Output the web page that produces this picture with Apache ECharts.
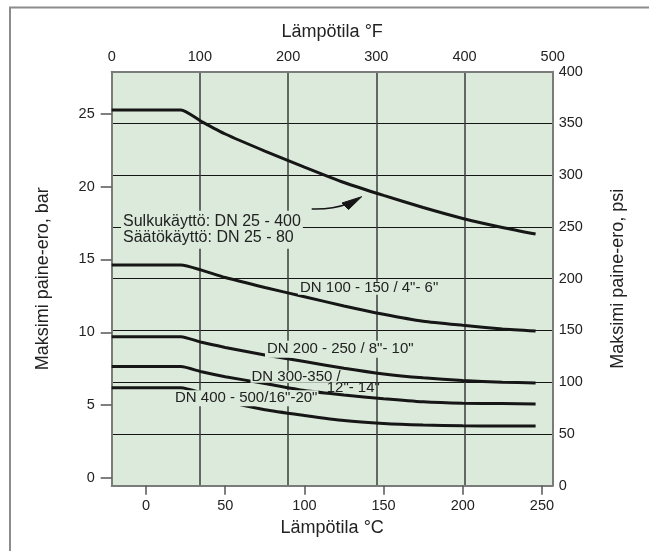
<!DOCTYPE html>
<html><head><meta charset="utf-8">
<script src="https://cdn.jsdelivr.net/npm/echarts@6/dist/echarts.min.js"></script>
<style>html,body{margin:0;padding:0;background:#fff}#c{width:649px;height:551px}</style>
</head><body><div id="c"></div>
<script>
// Temperature points (°C) at which the curves were read
const tempC = [-21.7, 22, 35, 50, 75, 100, 125, 150, 175, 200, 225, 246];
// Maximum pressure difference, bar
const dn25_400  = [25.27, 25.27, 24.48, 23.62, 22.45, 21.35, 20.29, 19.40, 18.57, 17.82, 17.20, 16.75];
const dn100_150 = [14.62, 14.62, 14.27, 13.76, 13.08, 12.44, 11.81, 11.24, 10.76, 10.48, 10.23, 10.09];
const dn200_250 = [9.70, 9.70, 9.31, 8.96, 8.44, 7.99, 7.53, 7.14, 6.87, 6.68, 6.57, 6.52];
const dn300_350 = [7.64, 7.64, 7.29, 6.95, 6.48, 6.00, 5.69, 5.44, 5.23, 5.13, 5.10, 5.08];
const dn400_500 = [6.19, 6.19, 5.83, 5.28, 4.68, 4.29, 3.94, 3.74, 3.63, 3.57, 3.56, 3.56];
const seriesNames = ['DN 25 - 400', 'DN 100 - 150', 'DN 200 - 250', 'DN 300 - 350', 'DN 400 - 500'];
// Tick labels
const celsiusTicks = [0, 50, 100, 150, 200, 250];
const barTicks = [0, 5, 10, 15, 20, 25];

const FONT = '"Liberation Sans", Arial, Helvetica, sans-serif';
const TXT = '#222';
const BORDER = '#7b7b7b';
const PLOTBG = '#dbeadb';

const chart = echarts.init(document.getElementById('c'), null, {renderer: 'canvas'});
const allCurves = [dn25_400, dn100_150, dn200_250, dn300_350, dn400_500];

function label(text, x, cy, size, lh, bg, pad) {
  return {
    type: 'text', x: x, y: cy, z: 20, silent: true,
    style: {
      text: text, fill: TXT, font: size + 'px ' + FONT,
      align: 'left', verticalAlign: 'middle', lineHeight: lh,
      backgroundColor: bg ? PLOTBG : null, padding: pad || 0
    }
  };
}
const axisLine = {show: true, onZero: false, lineStyle: {color: BORDER, width: 2}};

chart.setOption({
  animation: false,
  backgroundColor: '#fff',
  textStyle: {fontFamily: FONT},
  grid: {left: 111.7, right: 96.3, top: 71.7, bottom: 65.3, show: true, backgroundColor: PLOTBG, borderWidth: 0},
  xAxis: [
    {
      type: 'value', position: 'bottom', min: -21.7, max: 256.8,
      axisLine: axisLine,
      axisTick: {show: true, customValues: celsiusTicks, length: 9, lineStyle: {color: '#555', width: 1.5}},
      axisLabel: {customValues: celsiusTicks, fontSize: 14.5, color: TXT, margin: 13, fontFamily: FONT},
      splitLine: {show: false},
      name: 'Lämpötila °C', nameLocation: 'middle', nameGap: 33,
      nameTextStyle: {fontSize: 18, color: TXT, fontFamily: FONT}
    },
    {
      type: 'value', position: 'top', min: 0, max: 500, interval: 100,
      axisLine: axisLine,
      axisTick: {show: false},
      axisLabel: {fontSize: 14.5, color: TXT, margin: 7, fontFamily: FONT},
      splitLine: {show: true, showMinLine: false, showMaxLine: false, lineStyle: {color: '#3c3c3c', width: 1.5}},
      name: 'Lämpötila °F', nameLocation: 'middle', nameGap: 31,
      nameTextStyle: {fontSize: 18, color: TXT, fontFamily: FONT}
    }
  ],
  yAxis: [
    {
      type: 'value', position: 'left', min: -0.54, max: 27.9,
      axisLine: axisLine,
      axisTick: {show: true, customValues: barTicks, length: 11, lineStyle: {color: '#555', width: 1.5}},
      axisLabel: {customValues: barTicks, fontSize: 14.5, color: TXT, margin: 17, fontFamily: FONT},
      splitLine: {show: false},
      name: 'Maksimi paine-ero, bar', nameLocation: 'middle', nameGap: 60, nameRotate: 90,
      nameTextStyle: {fontSize: 18, color: TXT, fontFamily: FONT}
    },
    {
      type: 'value', position: 'right', min: 0, max: 400, interval: 50,
      axisLine: axisLine,
      axisTick: {show: false},
      axisLabel: {fontSize: 14.5, color: TXT, margin: 6, fontFamily: FONT},
      splitLine: {show: true, showMinLine: false, showMaxLine: false, lineStyle: {color: '#151515', width: 1}},
      name: 'Maksimi paine-ero, psi', nameLocation: 'middle', nameGap: 56, nameRotate: 90,
      nameTextStyle: {fontSize: 18, color: TXT, fontFamily: FONT}
    }
  ],
  series: allCurves.map((vals, i) => ({
    name: seriesNames[i], type: 'line', xAxisIndex: 0, yAxisIndex: 0,
    data: tempC.map((t, k) => [t, vals[k]]),
    showSymbol: false, silent: true, smooth: 0.2,
    lineStyle: {color: '#161616', width: 3}, z: 5
  })),
  graphic: [
    {type: 'rect', z: 0, silent: true, shape: {x: 10, y: 7.5, width: 700, height: 600},
     style: {fill: null, stroke: '#8c8c8c', lineWidth: 2}},
    label('Sulkukäyttö: DN 25 - 400\nSäätökäyttö: DN 25 - 80', 121, 229.7, 16, 16, true, [3, 2, 3, 2]),
    label('DN 100 - 150 / 4"- 6"', 298, 288.3, 15, 12, true, [1, 2, 0, 2]),
    label('DN 200 - 250 / 8"- 10"', 265, 349.3, 15, 15, true, [1, 2, 1, 2]),
    label('DN 300-350 /', 250.5, 376.7, 15, 12, true, [0, 1, 0, 1]),
    label('12"- 14"', 326.7, 388.3, 15, 12, false),
    label('DN 400 - 500/16"-20"', 174, 398.3, 15, 16, true, [0, 1, 0, 1]),
    {type: 'bezierCurve', z: 20, silent: true,
     shape: {x1: 311.7, y1: 209, cpx1: 333, cpy1: 209.5, x2: 347, y2: 204},
     style: {fill: null, stroke: '#161616', lineWidth: 1.5}},
    {type: 'polygon', z: 20, silent: true,
     shape: {points: [[361.7, 196.7], [342, 203], [348.5, 209.5]]},
     style: {fill: '#161616', stroke: '#161616', lineWidth: 1}}
  ]
});
</script>
</body></html>
